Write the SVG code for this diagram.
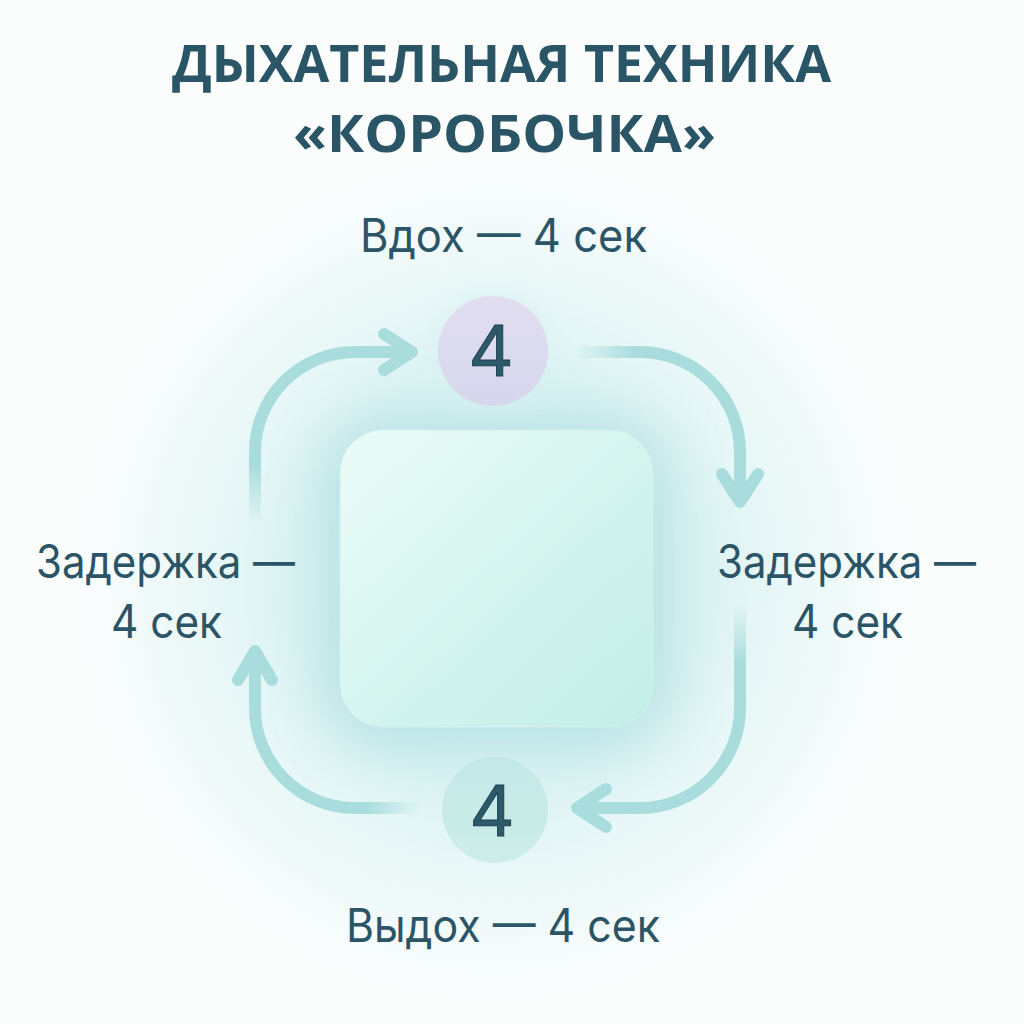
<svg xmlns="http://www.w3.org/2000/svg" width="1024" height="1024" viewBox="0 0 1024 1024">
  <defs>
    <style>
      .title { font-family: "Open Sans", "Liberation Sans", sans-serif; font-weight: 700; font-size: 52px; fill: #2a5566; }
      .label { font-family: Inter, "Noto Sans", "Liberation Sans", sans-serif; font-weight: 400; font-size: 46px; fill: #2b5567; }
      .num { font-family: Inter, "Noto Sans", "Liberation Sans", sans-serif; font-weight: 400; font-size: 70px; fill: #2c5a6b; stroke: #1b3b48; stroke-width: 0.9; text-anchor: middle; }
      .arc { fill: none; stroke-width: 12; stroke-linecap: round; stroke-linejoin: round; }
      .head { fill: none; stroke: #a9dcdd; stroke-width: 12; stroke-linecap: round; stroke-linejoin: round; }
    </style>
    <radialGradient id="bgGlow" cx="495" cy="580" r="450" gradientUnits="userSpaceOnUse">
      <stop offset="0" stop-color="#c9ecec" stop-opacity="1"/>
      <stop offset="0.45" stop-color="#d6f1f1" stop-opacity="0.9"/>
      <stop offset="0.8" stop-color="#ebf8f8" stop-opacity="0.55"/>
      <stop offset="1" stop-color="#ffffff" stop-opacity="0"/>
    </radialGradient>
    <linearGradient id="sqFill" x1="0" y1="0" x2="1" y2="1">
      <stop offset="0" stop-color="#ecfcf8"/>
      <stop offset="0.55" stop-color="#d3f4ee"/>
      <stop offset="1" stop-color="#c2eee7"/>
    </linearGradient>
    <linearGradient id="topCircle" x1="0" y1="0" x2="0" y2="1">
      <stop offset="0" stop-color="#e2def0"/>
      <stop offset="1" stop-color="#d6d6ec"/>
    </linearGradient>
    <linearGradient id="botCircle" x1="0" y1="0" x2="0" y2="1">
      <stop offset="0" stop-color="#c2e8e6"/>
      <stop offset="1" stop-color="#cdede8"/>
    </linearGradient>
    <filter id="blur30" x="-50%" y="-50%" width="200%" height="200%">
      <feGaussianBlur stdDeviation="30"/>
    </filter>
    <filter id="blur12" x="-50%" y="-50%" width="200%" height="200%">
      <feGaussianBlur stdDeviation="12"/>
    </filter>
    <linearGradient id="fadeTL" x1="0" y1="525" x2="0" y2="465" gradientUnits="userSpaceOnUse">
      <stop offset="0" stop-color="#a9dcdd" stop-opacity="0"/>
      <stop offset="1" stop-color="#a9dcdd" stop-opacity="1"/>
    </linearGradient>
    <linearGradient id="fadeTR" x1="575" y1="0" x2="635" y2="0" gradientUnits="userSpaceOnUse">
      <stop offset="0" stop-color="#a9dcdd" stop-opacity="0"/>
      <stop offset="1" stop-color="#a9dcdd" stop-opacity="1"/>
    </linearGradient>
    <linearGradient id="fadeBR" x1="0" y1="605" x2="0" y2="665" gradientUnits="userSpaceOnUse">
      <stop offset="0" stop-color="#a9dcdd" stop-opacity="0"/>
      <stop offset="1" stop-color="#a9dcdd" stop-opacity="1"/>
    </linearGradient>
    <linearGradient id="fadeBL" x1="420" y1="0" x2="365" y2="0" gradientUnits="userSpaceOnUse">
      <stop offset="0" stop-color="#a9dcdd" stop-opacity="0"/>
      <stop offset="1" stop-color="#a9dcdd" stop-opacity="1"/>
    </linearGradient>
  </defs>

  <!-- background -->
  <rect x="0" y="0" width="1024" height="1024" fill="#fbfdfd"/>
  <ellipse cx="495" cy="580" rx="460" ry="460" fill="url(#bgGlow)"/>

  <!-- title -->
  <g id="title">
    <text class="title" x="172" y="82" textLength="659" lengthAdjust="spacingAndGlyphs">ДЫХАТЕЛЬНАЯ ТЕХНИКА</text>
    <text class="title" x="293" y="152" textLength="423" lengthAdjust="spacingAndGlyphs">«КОРОБОЧКА»</text>
  </g>

  <!-- central box -->
  <g id="box">
    <rect x="330" y="425" width="333" height="315" rx="50" fill="#a3d8dc" opacity="0.7" filter="url(#blur30)"/>
    <rect x="340" y="430" width="313" height="297" rx="43" fill="url(#sqFill)" stroke="#d2f1ee" stroke-width="1"/>
  </g>

  <!-- connectors -->
  <g id="connectors">
    <path class="arc" stroke="url(#fadeTL)" d="M255 522 V452 A100 100 0 0 1 355 352 H408"/>
    <polyline class="head" points="384,334 412,352 384,370"/>

    <path class="arc" stroke="url(#fadeTR)" d="M578 352 H640 A100 100 0 0 1 740 452 V498"/>
    <polyline class="head" points="722,474 740,502 758,474"/>

    <path class="arc" stroke="url(#fadeBR)" d="M740 605 V708 A100 100 0 0 1 640 808 H582"/>
    <polyline class="head" points="606,789 577,808 606,827"/>

    <path class="arc" stroke="url(#fadeBL)" d="M420 808 H355 A100 100 0 0 1 255 708 V656"/>
    <polyline class="head" points="238,680 255,651 272,680"/>
  </g>

  <!-- top node -->
  <g id="node-inhale">
    <circle cx="493" cy="351" r="62" fill="#d8f0f0" opacity="0.6" filter="url(#blur12)"/>
    <circle cx="493" cy="351" r="55" fill="url(#topCircle)"/>
    <text class="num" x="491" y="376">4</text>
  </g>

  <!-- bottom node -->
  <g id="node-exhale">
    <circle cx="495" cy="810" r="53" fill="url(#botCircle)"/>
    <text class="num" x="492" y="836">4</text>
  </g>

  <!-- labels -->
  <g id="label-inhale">
    <text class="label" x="360" y="252" textLength="287" lengthAdjust="spacingAndGlyphs">Вдох — 4 сек</text>
  </g>
  <g id="label-hold-left">
    <text class="label" x="36" y="578" textLength="259" lengthAdjust="spacingAndGlyphs">Задержка —</text>
    <text class="label" x="111" y="638" textLength="111" lengthAdjust="spacingAndGlyphs">4 сек</text>
  </g>
  <g id="label-hold-right">
    <text class="label" x="717" y="578" textLength="259" lengthAdjust="spacingAndGlyphs">Задержка —</text>
    <text class="label" x="792" y="638" textLength="111" lengthAdjust="spacingAndGlyphs">4 сек</text>
  </g>
  <g id="label-exhale">
    <text class="label" x="346" y="942" textLength="314" lengthAdjust="spacingAndGlyphs">Выдох — 4 сек</text>
  </g>
</svg>
